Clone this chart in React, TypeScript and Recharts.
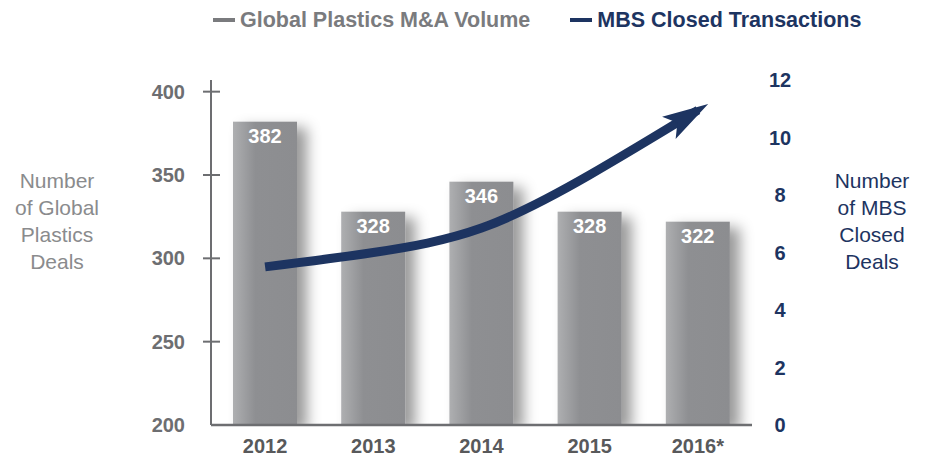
import React from "react";
import {
    ComposedChart,
    Bar,
    Line,
    XAxis,
    YAxis,
    LabelList,
} from "recharts";

const years = ["2012", "2013", "2014", "2015", "2016*"];
const plasticsDeals = [382, 328, 346, 328, 322];
const mbsClosed = [5.5, 6.0, 6.85, 8.7, 10.95];
const leftTicks = [200, 250, 300, 350, 400];
const rightTicks = [0, 2, 4, 6, 8, 10, 12];

const GRAY = "#6d6e71";
const NAVY = "#1d3461";
const FONT = "'Liberation Sans', Arial, Helvetica, sans-serif";

const data = years.map((year, i) => ({
    year,
    deals: plasticsDeals[i],
    mbs: mbsClosed[i],
}));

function LeftTick(props: any) {
    const { x, y, payload } = props;
    return (
        <g>
            {payload.value !== 200 && (
                <line x1={x + 18} x2={x + 35} y1={y} y2={y} stroke={GRAY} strokeWidth={2} />
            )}
            <text
                x={x}
                y={y}
                dy={7}
                textAnchor="end"
                fill={GRAY}
                fontSize={20}
                fontWeight="bold"
                fontFamily={FONT}
            >
                {payload.value}
            </text>
        </g>
    );
}

function RightTick(props: any) {
    const { x, y, payload } = props;
    return (
        <text
            x={x + 28}
            y={y}
            dy={7}
            textAnchor="middle"
            fill={NAVY}
            fontSize={20}
            fontWeight="bold"
            fontFamily={FONT}
        >
            {payload.value}
        </text>
    );
}

function ShadowBar(props: any) {
    const { x, y, width, height } = props;
    return (
        <g filter="url(#barShadow)">
            <rect x={x} y={y} width={width} height={height} fill="url(#barFill)" />
        </g>
    );
}

function AxisTitle({ lines, color, left }: { lines: string[]; color: string; left: number }) {
    return (
        <div
            style={{
                position: "absolute",
                left,
                top: 167,
                width: 110,
                textAlign: "center",
                color,
                fontFamily: FONT,
                fontSize: 21,
                lineHeight: "27px",
            }}
        >
            {lines.map((l) => (
                <div key={l}>{l}</div>
            ))}
        </div>
    );
}

function LegendItem({ label, color, gap }: { label: string; color: string; gap: number }) {
    return (
        <div style={{ display: "flex", alignItems: "center", color, marginRight: gap }}>
            <span style={{ width: 22, height: 4, background: color, marginRight: 5 }} />
            <span>{label}</span>
        </div>
    );
}

export default function App() {
    return (
        <div style={{ position: "absolute", left: 0, top: 0, width: 928, height: 459, background: "#fff" }}>
            <div
                style={{
                    position: "absolute",
                    left: 213,
                    top: 7,
                    display: "flex",
                    fontFamily: FONT,
                    fontWeight: "bold",
                    fontSize: 21.5,
                    lineHeight: "26px",
                }}
            >
                <LegendItem label="Global Plastics M&A Volume" color="#7a7b7e" gap={40} />
                <LegendItem label="MBS Closed Transactions" color={NAVY} gap={0} />
            </div>

            <AxisTitle lines={["Number", "of Global", "Plastics", "Deals"]} color="#8a8b8d" left={2} />
            <AxisTitle lines={["Number", "of MBS", "Closed", "Deals"]} color={NAVY} left={817} />

            <ComposedChart
                width={928}
                height={459}
                data={data}
                margin={{ top: 80, right: 116, bottom: 4, left: 151 }}
                barSize={64}
            >
                <defs>
                    <linearGradient id="barFill" x1="0" y1="0" x2="1" y2="0">
                        <stop offset="0%" stopColor="#aeafb1" />
                        <stop offset="35%" stopColor="#8e8f92" />
                        <stop offset="100%" stopColor="#8c8d90" />
                    </linearGradient>
                    <filter id="barShadow" x="-30%" y="-20%" width="170%" height="140%">
                        <feDropShadow dx={10} dy={6} stdDeviation={7} floodColor="#000" floodOpacity={0.4} />
                    </filter>
                    <marker
                        id="arrowHead"
                        markerUnits="userSpaceOnUse"
                        markerWidth={60}
                        markerHeight={40}
                        viewBox="-40 -20 60 40"
                        refX={0}
                        refY={0}
                        orient="auto"
                    >
                        <path d="M12,0 L-34,-13 L-24,0 L-34,13 Z" fill={NAVY} />
                    </marker>
                </defs>

                <XAxis
                    dataKey="year"
                    axisLine={{ stroke: GRAY, strokeWidth: 2.5 }}
                    tickLine={false}
                    tickSize={0}
                    tickMargin={14}
                    height={30}
                    tick={{ fill: "#58595b", fontSize: 20, fontWeight: "bold", fontFamily: FONT }}
                />
                <YAxis
                    yAxisId="left"
                    domain={[200, 407]}
                    ticks={leftTicks}
                    allowDataOverflow
                    width={60}
                    axisLine={{ stroke: GRAY, strokeWidth: 2 }}
                    tickLine={false}
                    tickSize={0}
                    tickMargin={26}
                    tick={<LeftTick />}
                />
                <YAxis
                    yAxisId="right"
                    orientation="right"
                    domain={[0, 12]}
                    ticks={rightTicks}
                    width={60}
                    axisLine={false}
                    tickLine={false}
                    tickSize={0}
                    tickMargin={0}
                    tick={<RightTick />}
                />

                <Bar
                    yAxisId="left"
                    dataKey="deals"
                    shape={<ShadowBar />}
                    isAnimationActive={false}
                >
                    <LabelList
                        dataKey="deals"
                        position="insideTop"
                        offset={7}
                        fill="#fff"
                        fontSize={20}
                        fontWeight="bold"
                        fontFamily={FONT}
                    />
                </Bar>
                <Line
                    yAxisId="right"
                    dataKey="mbs"
                    type="natural"
                    stroke={NAVY}
                    strokeWidth={9}
                    dot={false}
                    activeDot={false}
                    markerEnd="url(#arrowHead)"
                    isAnimationActive={false}
                />
            </ComposedChart>
        </div>
    );
}
